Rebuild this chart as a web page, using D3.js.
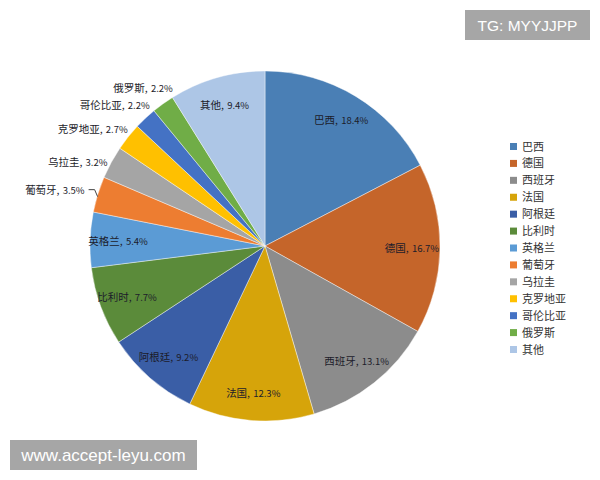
<!DOCTYPE html>
<html><head><meta charset="utf-8">
<script src="https://cdn.jsdelivr.net/npm/d3@7"></script>
<style>html,body{margin:0;padding:0;background:#fff;}svg{display:block;}</style>
</head><body>
<svg id="c" width="600" height="480"></svg>
<script>
const categories = ["巴西","德国","西班牙","法国","阿根廷","比利时","英格兰","葡萄牙","乌拉圭","克罗地亚","哥伦比亚","俄罗斯","其他"];
const values = [18.4,16.7,13.1,12.3,9.2,7.7,5.4,3.5,3.2,2.7,2.2,2.2,9.4];
const colors = ["#4a7fb5","#c5652a","#8c8c8c","#d6a40a","#3a5ea6","#5b8b3a","#5b9bd5","#ed7d31","#a5a5a5","#ffc000","#4472c4","#70ad47","#adc6e6"];

const svg = d3.select("#c");
const cx = 265, cy = 246, R = 175;
const font = "'Noto Sans CJK SC','Microsoft YaHei',sans-serif";

const pie = d3.pie().sort(null).value(d => d.v);
const data = categories.map((c,i)=>({c, v: values[i], col: colors[i]}));
const arcs = pie(data);
const arc = d3.arc().innerRadius(0).outerRadius(R);
const g = svg.append("g").attr("transform", `translate(${cx},${cy})`);

g.selectAll("path.s").data(arcs).join("path")
  .attr("class","s")
  .attr("d", arc)
  .attr("fill", d => d.data.col)
  .attr("stroke", "#ffffff").attr("stroke-width", 0.6).attr("stroke-opacity",0.7);

function lbl(sel, d){
  sel.append("tspan").attr("font-size", 10.5).text(d.data.c + ",");
  sel.append("tspan").attr("font-size", 9.5).attr("dx", 1).text(" " + d.data.v.toFixed(1) + "%");
}
function polar(a, r){ return [r*Math.sin(a), -r*Math.cos(a)]; }

const total = d3.sum(values);
const inside = arcs.filter(d => d.data.v/total > 0.04);
const outside = arcs.filter(d => d.data.v/total <= 0.04);
const mids = outside.map(d => (d.startAngle+d.endAngle)/2);
const leaderSet = outside.filter((d,i) => mids[i] < Math.PI*1.62);
const plain = outside.filter((d,i) => mids[i] >= Math.PI*1.62);
const plainMid = d3.mean(plain, d => (d.startAngle+d.endAngle)/2);

inside.forEach(d => {
  const [x,y] = polar((d.startAngle+d.endAngle)/2, R*0.84);
  const t = g.append("text").attr("x", x).attr("y", y + 4)
    .attr("text-anchor","middle").attr("font-family", font).attr("fill","#1c1c2a");
  lbl(t, d);
});
leaderSet.forEach(d => {
  const [ex,ey] = polar((d.startAngle+d.endAngle)/2, R*0.995);
  const tx = ex - 14, ty = ey - 2;
  g.append("path")
    .attr("d", `M${tx+4},${ty-3}H${tx+10}L${ex-1},${ey+2}`)
    .attr("fill","none").attr("stroke","#444").attr("stroke-width",1);
  const t = g.append("text").attr("x", tx).attr("y", ty + 1)
    .attr("text-anchor","end").attr("font-family", font).attr("fill","#1c1c2a");
  lbl(t, d);
});
plain.forEach(d => {
  const m = (d.startAngle+d.endAngle)/2;
  const a = plainMid + (m - plainMid)*1.25;
  const [x,y] = polar(a, R*1.02);
  const t = g.append("text").attr("x", x + 4).attr("y", y - 4)
    .attr("text-anchor","end").attr("font-family", font).attr("fill","#1c1c2a");
  lbl(t, d);
});

// legend
const ly = d3.scaleLinear().domain([0, categories.length-1]).range([146.5, 349.5]);
const leg = svg.append("g");
categories.forEach((c,i)=>{
  leg.append("rect").attr("x",510).attr("y", ly(i)-3.5).attr("width",7).attr("height",7).attr("fill",colors[i]);
  leg.append("text").attr("x",522).attr("y", ly(i)+4).attr("font-size",11)
    .attr("font-family", font).attr("fill","#333").text(c);
});

// watermarks
svg.append("rect").attr("x",465).attr("y",10).attr("width",125).attr("height",30).attr("fill","#a6a6a6");
svg.append("text").attr("x",527.5).attr("y",31).attr("text-anchor","middle").attr("fill","#fff")
  .attr("font-size",15.5).attr("font-family","'Liberation Sans',Arial,sans-serif").text("TG: MYYJJPP");
svg.append("rect").attr("x",10).attr("y",440).attr("width",187).attr("height",30).attr("fill","#a6a6a6");
svg.append("text").attr("x",103.5).attr("y",461).attr("text-anchor","middle").attr("fill","#fff")
  .attr("font-size",17).attr("font-family","'Liberation Sans',Arial,sans-serif").text("www.accept-leyu.com");
</script>
</body></html>
